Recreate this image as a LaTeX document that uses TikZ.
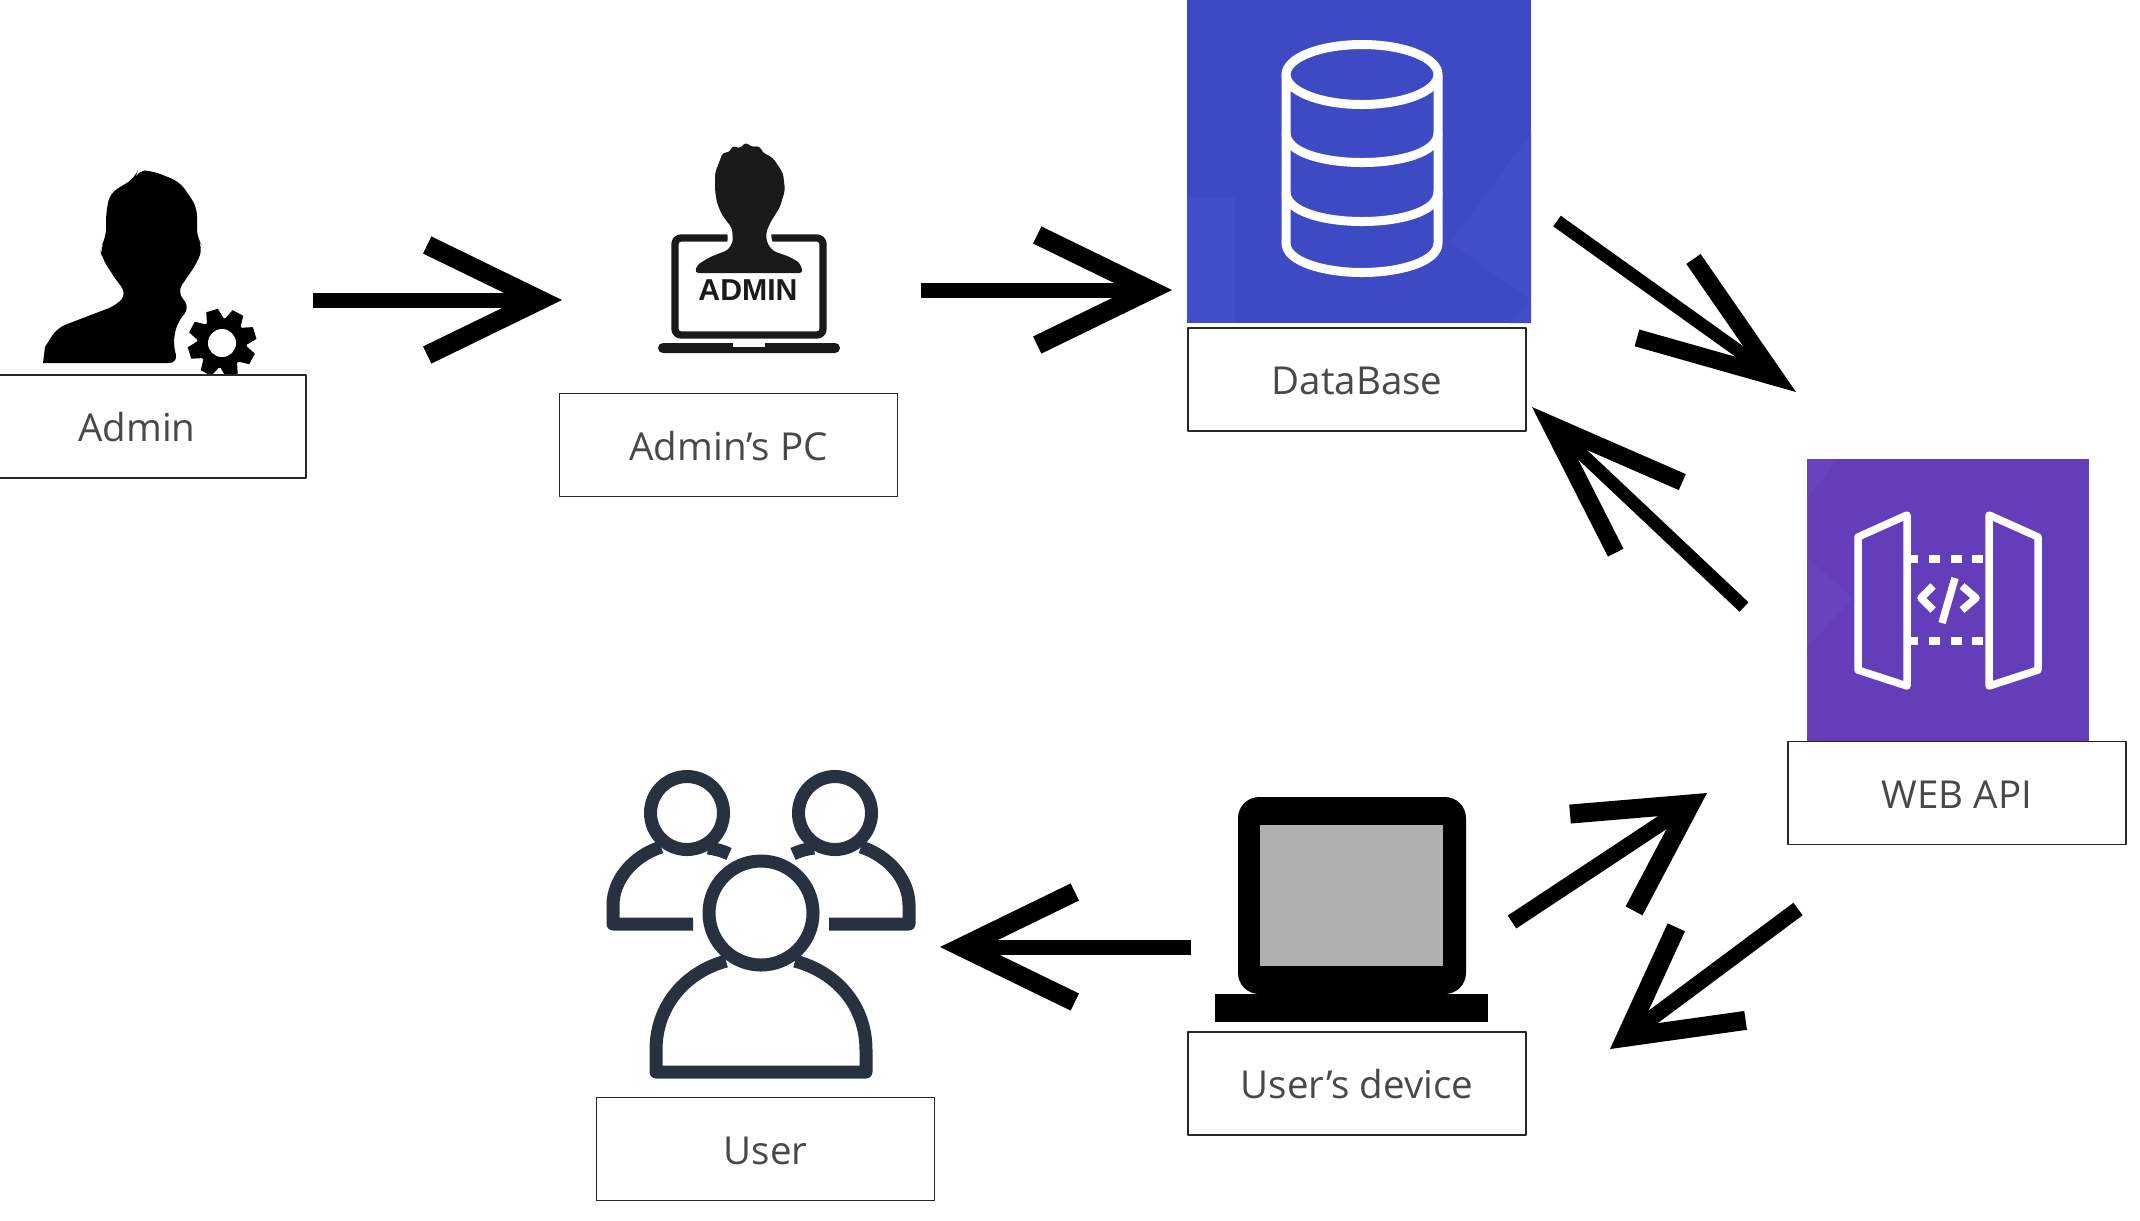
\documentclass[tikz,border=0pt]{standalone}
\usepackage{fontspec}
\setmainfont{Open Sans}
\newfontfamily\pcfont{Liberation Sans}
\usetikzlibrary{arrows.meta}

\definecolor{dbblue}{RGB}{62,73,196}
\definecolor{dbfacet}{RGB}{66,78,200}
\definecolor{apipurple}{RGB}{99,61,186}
\definecolor{apifacet}{RGB}{104,67,190}
\definecolor{usernavy}{RGB}{39,49,64}
\definecolor{labelgrey}{RGB}{72,72,72}
\definecolor{pcdark}{RGB}{26,26,26}
\definecolor{screengrey}{RGB}{176,176,176}

\begin{document}
\begin{tikzpicture}[
    x=0.01cm,
    y=-0.01cm,
    line join=round,
    labelbox/.style={
        draw=black!85, fill=white, line width=0.5pt, inner sep=0pt,
        minimum width=3.38cm, minimum height=1.03cm,
        text height=0.305cm, text depth=0pt,
        text=labelgrey, font=\fontsize{10.95}{13}\selectfont
    },
    iconbox/.style={inner sep=0pt, outer sep=0pt},
    bigarrow/.style n args={4}{
        line width=#4cm,
        -{Straight Barb[length=#1cm,width=#2cm,line width=#3cm]}
    }
]

\useasboundingbox (0,0) rectangle (2140,1220);

% ======================================
% Admin
% ======================================
\fill[rounded corners=2.5pt] (43,363) [sharp corners] -- (45,347) [rounded corners=2.5pt]
    -- (57,328) -- (83,318) -- (117,305)
    -- (127,293) -- (118,283) -- (102,258) -- (100,248) -- (106,238) -- (106,213)
    -- (110,193) -- (135,178) -- (138,170) -- (153,171) -- (180,182) -- (197,207)
    -- (197,238) -- (203,247) -- (197,263) -- (177,292) -- (190,307) -- (177,323)
    -- (173,343) -- (178,363) [sharp corners] -- cycle;

% gear
\begin{scope}[shift={(222,343)}]
    \fill circle (25);
    \foreach \a in {17,62,...,377}
        \fill[rotate=\a] (22,-9) -- (34,-6) -- (34,6) -- (22,9) -- cycle;
    \fill[white] circle (14);
\end{scope}

\node[labelbox] (admin) at (137,426.5) {Admin};

% ======================================
% Admin's PC
% ======================================
\draw[pcdark, line width=0.073cm, rounded corners=1.7pt] (675,238) rectangle (823,335);
\fill[pcdark, rounded corners=1.4pt] (658,343) -- (840,343) -- (840,353) -- (658,353) -- cycle;
\fill[white] (733,343) rectangle (765,347);

\fill[pcdark, rounded corners=1pt, preaction={draw=white, line width=0.1cm}]
    (695,273) -- (697,265) -- (710,257) -- (728,250) -- (733,242) -- (732,228)
    -- (722,215) -- (717,203) -- (715,190) -- (715,173) -- (720,160) -- (723,152)
    -- (729,153) -- (733,145) -- (739,149) -- (746,142) -- (751,147) -- (760,146)
    -- (762,152) -- (773,158) -- (783,173) -- (785,190) -- (780,207) -- (770,223)
    -- (766,233) -- (767,243) -- (773,251) -- (790,257) -- (800,263) -- (803,273)
    -- cycle;

\node[font=\pcfont\fontsize{8.6}{10}\selectfont\bfseries, text=pcdark, inner sep=0pt]
    (admintext) at (748,290) {ADMIN};

\node[labelbox] (adminpc) at (728.5,445) {Admin’s PC};

% ======================================
% DataBase
% ======================================
\node[iconbox, fill=dbblue, minimum width=3.44cm, minimum height=3.23cm]
    (dbicon) at (1359,161.5) {};
\fill[dbfacet] (1187,197) rectangle (1235,323);
\fill[dbfacet] (1531,133) -- (1450,243) -- (1531,300) -- (1510,323) -- (1531,323) -- cycle;

\begin{scope}[draw=white, line width=0.09cm]
    \draw (1362,74.5) ellipse [x radius=76, y radius=30];
    \draw (1286,74.5) -- (1286,243) .. controls (1286,262) and (1325,272.5) .. (1362,272.5)
        .. controls (1399,272.5) and (1438,262) .. (1438,243) -- (1438,74.5);
    \foreach \h in {133,192}
        \draw (1286,\h) .. controls (1286,\h+20) and (1325,\h+29.5) .. (1362,\h+29.5)
            .. controls (1399,\h+29.5) and (1438,\h+20) .. (1438,\h);
\end{scope}

\node[labelbox] (database) at (1357,379.5) {DataBase};

% ======================================
% WEB API
% ======================================
\node[iconbox, fill=apipurple, minimum width=2.82cm, minimum height=2.82cm]
    (apiicon) at (1948,600) {};
\fill[apifacet] (1807,459) -- (1837,459) -- (1807,500) -- cycle;
\fill[apifacet] (1807,557) -- (1853,598) -- (1807,647) -- cycle;

\begin{scope}[draw=white, line width=0.075cm]
    \draw (1858,537) -- (1907,515) -- (1907,686) -- (1858,670) -- cycle;
    \draw (2038,537) -- (1989,515) -- (1989,686) -- (2038,670) -- cycle;
    \foreach \h in {559,641}
        \draw[dash pattern=on 3.1pt off 3.1pt] (1907,\h) -- (1989,\h);
    \draw (1933,586) -- (1921,598) -- (1933,610);
    \draw (1962,586) -- (1976,598) -- (1962,610);
    \draw (1955,578) -- (1942,623);
\end{scope}

\node[labelbox] (webapi) at (1957,793) {WEB API};

% ======================================
% User's device
% ======================================
\fill[rounded corners=6pt] (1238,797) rectangle (1466,994);
\fill (1215,994) rectangle (1488,1022);
\fill[screengrey] (1260,825) rectangle (1443,966);

\node[labelbox] (device) at (1357,1083.5) {User’s device};

% ======================================
% Users
% ======================================
\begin{scope}[draw=usernavy, line width=0.13cm]
    \draw (687,813) circle (36.5);
    \draw (835,813) circle (36.5);
    \draw (761,913) circle (52);
    % side figures
    \draw (693,924) -- (613,924) -- (613,905) .. controls (613,880) and (633,856) .. (661,847);
    \draw (708,848) .. controls (716,849) and (723,851) .. (729,854);
    \draw (829,924) -- (909,924) -- (909,905) .. controls (909,880) and (889,856) .. (861,847);
    \draw (814,848) .. controls (806,849) and (799,851) .. (793,854);
    % front figure
    \draw (726,961) .. controls (686,972) and (656,1005) .. (656,1050) -- (656,1072)
        -- (866,1072) -- (866,1050) .. controls (866,1005) and (836,972) .. (795,961);
\end{scope}

\node[labelbox] (users) at (765.5,1149) {User};

% ======================================
% Arrows
% ======================================
\coordinate (a1s) at (313,300);
\coordinate (a1e) at (562,300);
\coordinate (a2s) at (921,290);
\coordinate (a2e) at (1172,290);
\coordinate (a3s) at (1557,221);
\coordinate (a3e) at (1796,392);
\coordinate (a4s) at (1744,607);
\coordinate (a4e) at (1532,407);
\coordinate (a5s) at (1798,909);
\coordinate (a5e) at (1610,1049);
\coordinate (a6s) at (1512,922);
\coordinate (a6e) at (1707,793);
\coordinate (a7s) at (1191,947);
\coordinate (a7e) at (940,947);

\draw[bigarrow={1.13}{1.1}{0.19}{0.15}] (a1s) -- (a1e);
\draw[bigarrow={1.13}{1.1}{0.19}{0.15}] (a2s) -- (a2e);
\draw[bigarrow={1.35}{0.97}{0.174}{0.13}] (a3s) -- (a3e);
\draw[bigarrow={1.35}{0.97}{0.174}{0.13}] (a4s) -- (a4e);
\draw[bigarrow={1.06}{1.16}{0.19}{0.155}] (a5s) -- (a5e);
\draw[bigarrow={1.06}{1.16}{0.19}{0.155}] (a6s) -- (a6e);
\draw[bigarrow={1.13}{1.1}{0.19}{0.15}] (a7s) -- (a7e);

\end{tikzpicture}
\end{document}
